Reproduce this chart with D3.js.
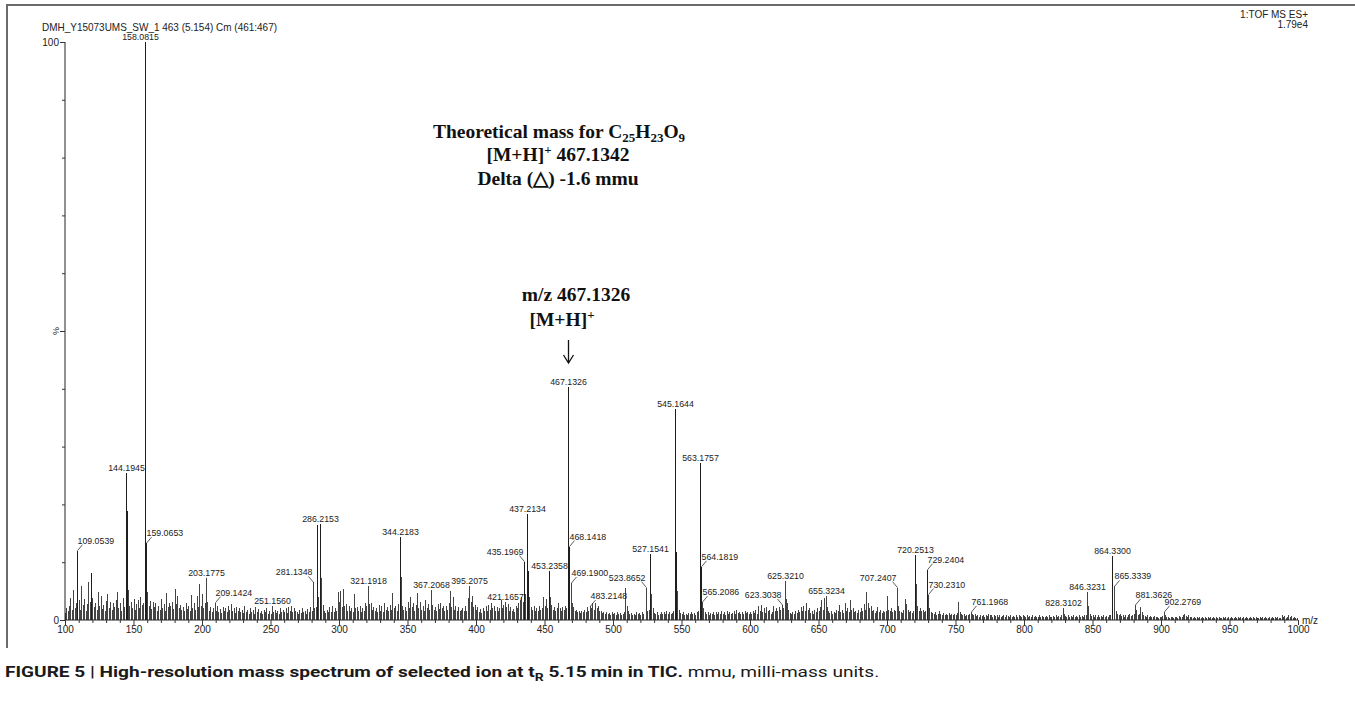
<!DOCTYPE html>
<html>
<head>
<meta charset="utf-8">
<script src="https://cdn.jsdelivr.net/npm/d3@7"></script>
<style>
  body { margin: 0; background: #fff; }
  svg { display: block; }
</style>
</head>
<body>
<script>
// ---- data ----
const runTitle = "DMH_Y15073UMS_SW_1 463 (5.154) Cm (461:467)";
const instrumentLines = ["1:TOF MS ES+", "1.79e4"];
const xTickValues = d3.range(100, 1001, 50);
const yTickValues = d3.range(0, 101, 10);

// labelled peaks: [m/z, relative intensity %]
const labeledPeaks = [
  [109.0539, 12.0], [144.1945, 25.5], [158.0815, 100], [159.0653, 13.3],
  [203.1775, 7.2], [209.1424, 3.0], [251.1560, 2.4], [281.1348, 6.5],
  [286.2153, 16.6], [321.1918, 5.8], [344.2183, 14.3], [367.2068, 5.2],
  [395.2075, 5.8], [421.1657, 3.1], [435.1969, 10.1], [437.2134, 18.3],
  [453.2358, 8.4], [467.1326, 40.3], [468.1418, 12.7], [469.1900, 6.4],
  [483.2148, 2.4], [523.8652, 5.6], [527.1541, 11.5], [545.1644, 36.5],
  [563.1757, 27.2], [564.1819, 9.2], [565.2086, 3.1], [623.3038, 2.6],
  [625.3210, 6.8], [655.3234, 4.2], [707.2407, 5.6], [720.2513, 11.3],
  [729.2404, 8.7], [730.2310, 4.4], [761.1968, 1.4], [828.3102, 2.1],
  [846.3231, 4.9], [864.3300, 11.0], [865.3339, 5.8], [881.3626, 2.6],
  [902.2769, 1.4]
];
// labels drawn beside the peak with a short leader
const labelsRight = [109.0539, 159.0653, 209.1424, 468.1418, 469.1900, 483.2148,
  564.1819, 565.2086, 729.2404, 730.2310, 761.1968, 865.3339, 881.3626, 902.2769];
const labelsLeft = [281.1348, 435.1969, 523.8652, 623.3038, 707.2407];

// unlabelled peaks, one per nominal mass (index 0 = block start), %
const noise100 = [
  1.2,2.0,1.5,2.5,3.8,1.8,5.2,2.0,3.0,0,
  3.5,1.8,5.8,2.6,3.6,1.6,2.8,6.5,3.2,8.2,
  3.8,2.2,3.0,1.8,4.9,2.4,4.2,1.9,2.6,1.5,
  3.3,4.5,2.0,3.1,1.7,2.9,2.2,3.4,4.8,2.0,
  3.0,1.6,3.8,2.3,0,18.8,5.2,2.4,3.2,2.0,
  3.6,1.8,2.8,3.5,2.1,3.9,2.6,3.0,0,0,
  4.8,2.5,3.3,1.9,3.1,2.2,3.0,1.6,2.4,1.8,
  3.6,2.0,2.8,1.5,4.7,2.2,3.0,2.5,3.2,1.9,
  5.4,2.8,4.2,2.0,2.6,1.7,2.3,1.5,3.0,1.9,
  2.4,1.6,4.3,2.1,3.0,1.7,4.1,2.3,6.2,2.5
];
const noise200 = [
  4.5,2.0,3.0,0,3.2,1.6,2.2,1.4,2.0,0,
  1.6,2.4,1.3,1.9,1.2,2.2,1.5,2.0,1.3,2.4,
  1.7,2.8,1.5,2.0,1.2,2.3,1.6,2.0,1.3,1.8,
  1.2,2.5,1.4,1.8,1.1,2.0,1.3,1.7,1.0,2.2,
  1.4,1.9,1.2,1.6,1.0,1.8,1.3,2.0,1.1,1.5,
  1.0,0,1.4,1.8,1.2,1.6,1.1,2.0,1.3,1.7,
  1.4,2.1,1.2,2.3,1.5,2.5,1.3,2.0,1.6,1.4,
  1.1,1.8,1.2,2.0,1.4,1.6,1.0,1.9,1.3,2.2,
  1.5,0,2.0,2.2,16.4,4.0,0,7.2,2.6,1.5,
  1.2,1.8,1.3,2.2,1.4,2.5,1.3,2.0,1.5,4.8
];
const noise300 = [
  3.2,5.0,2.2,5.4,2.5,2.8,1.6,2.4,1.5,2.0,
  1.4,4.5,2.0,2.2,1.5,2.4,1.3,2.0,1.6,3.0,
  2.4,0,2.8,3.0,1.8,2.2,1.5,2.0,1.3,2.6,
  1.6,2.4,1.4,3.0,1.8,2.2,1.5,2.6,1.7,4.6,
  2.0,2.4,1.5,2.8,0,7.5,2.5,1.8,2.2,1.5,
  3.2,2.0,4.0,2.2,3.0,1.6,2.6,4.7,2.0,3.2,
  1.8,2.4,1.6,3.4,2.0,2.8,1.7,0,2.6,1.8,
  2.3,1.5,2.8,1.9,3.0,2.0,2.5,1.6,2.4,1.8,
  3.0,5.0,2.2,4.0,1.8,2.5,1.6,2.2,1.5,1.8,
  2.0,1.6,2.4,1.5,3.8,0,3.2,4.2,2.2,2.6
];
const noise400 = [
  1.8,2.2,1.4,1.9,1.2,2.0,1.5,2.4,1.6,2.6,
  1.8,2.9,2.0,2.4,1.5,2.2,1.6,2.0,3.5,2.0,
  2.6,0,2.2,2.8,1.6,2.2,1.5,1.9,1.4,2.4,
  2.0,3.0,3.5,4.0,3.2,0,4.5,0,8.5,4.0,
  2.2,1.8,2.4,1.5,2.0,1.6,2.4,1.8,2.0,4.0,
  2.5,3.6,2.0,0,4.0,2.6,1.8,2.2,1.6,2.0,
  3.0,2.0,1.6,2.2,1.8,2.5,2.0,0,0,0,
  3.0,2.2,1.6,1.8,1.4,1.6,1.2,1.5,1.3,1.8,
  1.4,2.2,1.6,0,2.0,3.0,1.8,3.0,2.0,2.4,
  1.5,1.6,1.2,1.3,1.0,1.4,1.1,1.2,0.9,1.3
];
const noise500 = [
  1.0,1.2,0.9,1.3,1.0,1.2,0.8,1.1,1.4,5.5,
  2.4,1.5,1.0,1.2,0.9,1.1,0.8,1.3,1.0,1.2,
  0.9,1.4,1.1,0,2.2,1.5,1.8,0,4.5,2.0,
  1.2,1.0,1.3,0.9,1.1,1.4,1.0,1.3,1.0,1.5,
  1.1,1.3,1.0,1.2,1.5,0,11.7,5.0,1.8,1.2,
  1.0,1.3,0.9,1.1,0.8,1.2,1.0,1.4,1.1,1.2,
  0.9,1.3,1.5,0,0,0,2.0,1.4,1.0,1.3,
  0.9,1.2,1.0,1.4,0.9,1.3,1.0,1.4,1.1,1.5,
  1.0,1.3,0.9,1.5,1.1,1.4,1.0,1.2,1.5,1.1,
  1.8,1.2,1.4,1.0,1.3,1.0,1.6,1.2,1.4,1.0
];
const noise600 = [
  1.3,1.0,1.6,1.2,1.8,1.1,2.4,1.5,2.6,1.4,
  2.0,1.2,2.2,1.5,1.8,1.1,1.4,2.5,1.6,2.0,
  1.5,2.2,1.8,0,2.0,0,3.6,3.0,1.8,1.2,
  1.0,1.4,1.1,1.5,1.2,1.8,1.3,2.2,1.6,2.5,
  1.5,3.0,1.8,2.0,1.2,1.6,1.1,1.8,1.3,2.0,
  1.6,2.2,3.5,1.8,3.8,0,2.2,1.5,1.2,1.6,
  1.0,1.4,1.2,1.8,1.5,2.6,1.4,1.8,1.2,3.0,
  1.6,2.0,1.4,3.5,1.8,2.0,1.3,1.6,1.2,1.8,
  1.4,2.0,1.6,2.8,1.8,4.9,3.0,2.0,2.5,1.6,
  1.8,1.2,1.6,2.2,1.4,1.8,1.2,1.5,1.3,1.6
];
const noise700 = [
  4.2,1.8,1.5,2.0,1.4,1.8,1.5,0,2.5,1.6,
  1.4,1.2,1.8,3.6,2.8,1.8,1.4,1.6,1.2,1.5,
  0,6.3,2.5,1.6,2.0,1.5,1.8,1.4,1.6,0,
  0,2.0,1.4,1.2,1.0,1.3,0.9,1.1,1.5,1.0,
  0.8,1.2,0.9,1.0,0.8,1.2,0.9,1.0,0.8,1.1,
  0.9,1.2,3.1,1.4,1.0,0.8,1.0,0.7,0.9,0.8,
  1.0,0,1.1,0.8,1.0,0.7,0.9,0.6,0.8,0.7,
  0.9,0.6,0.8,0.7,1.0,0.8,0.9,0.6,0.8,0.7,
  0.9,0.6,0.8,0.5,0.7,0.8,0.6,0.9,0.7,0.6,
  0.8,0.5,0.7,0.6,0.8,0.6,0.9,0.7,0.6,0.8
];
const noise800 = [
  0.7,0.5,0.8,0.6,0.7,0.5,0.8,0.6,0.7,0.5,
  0.6,0.8,0.5,0.7,0.6,0.5,0.7,0.6,0.8,0.5,
  0.6,0.7,0.5,0.8,0.6,0.7,0.5,0.9,0,1.0,
  0.7,0.6,0.8,0.5,0.7,0.6,0.8,0.5,0.7,0.6,
  0.8,0.6,0.7,0.5,0.8,0.9,0,2.5,1.0,0.7,
  0.8,0.6,0.9,0.6,0.8,0.5,0.7,0.6,0.8,0.6,
  0.7,0.5,0.8,0.9,0,0,2.0,1.5,1.0,0.8,
  1.1,0.7,0.9,0.6,0.8,0.6,0.9,1.1,0.7,0.8,
  1.0,0,1.8,0.9,1.0,2.2,1.4,0.8,0.7,0.6,
  0.8,0.5,0.7,0.6,0.5,0.7,0.5,0.6,0.4,0.6
];
const noise900 = [
  0.5,0.7,0,0.8,0.5,0.6,0.4,0.5,0.6,0.4,
  0.5,0.6,0.4,0.7,0.5,0.6,0.8,1.1,0.7,0.5,
  0.8,0.5,0.6,0.4,0.5,0.3,0.5,0.4,0.6,0.4,
  0.5,0.3,0.5,0.4,0.6,0.3,0.5,0.4,0.5,0.3,
  0.6,0.4,0.5,0.3,0.4,0.5,0.3,0.5,0.4,0.6,
  0.4,0.5,0.3,0.4,0.5,0.3,0.5,0.4,0.6,0.3,
  0.5,0.4,0.5,0.3,0.4,0.6,0.3,0.5,0.4,0.5,
  0.3,0.4,0.6,0.3,0.5,0.4,0.5,0.3,0.4,0.6,
  0.3,0.5,0.4,0.6,0.4,0.5,0.3,0.4,0.8,0.5,
  0.7,0.4,0.6,0.8,0.5,0.7,0.4,0.5,0.3,0.4
];
const noiseBlocks = [[100, noise100], [200, noise200], [300, noise300], [400, noise400],
  [500, noise500], [600, noise600], [700, noise700], [800, noise800], [900, noise900]];

const W = 1355, H = 702;
const sans = "'Liberation Sans', Arial, sans-serif";
const serif = "'Liberation Serif', 'Times New Roman', serif";

const svg = d3.select("body").append("svg").attr("width", W).attr("height", H);

const x = d3.scaleLinear().domain([100, 1000]).range([65, 1298]);
const y = d3.scaleLinear().domain([0, 100]).range([620, 42]);

// frame (top and left rule)
svg.append("path")
  .attr("d", `M7,648 V5 H${W}`)
  .attr("fill", "none").attr("stroke", "#6b6b6b").attr("stroke-width", 2);

// header texts
svg.append("text").attr("x", 42).attr("y", 31)
  .attr("font-family", sans).attr("font-size", 10.5).attr("fill", "#222")
  .attr("textLength", 235).attr("lengthAdjust", "spacingAndGlyphs")
  .text(runTitle);
instrumentLines.forEach((t, i) => {
  svg.append("text").attr("x", 1308).attr("y", 18 + i * 9.5)
    .attr("text-anchor", "end").attr("font-family", sans).attr("font-size", 10).attr("fill", "#222")
    .text(t);
});

// spectrum sticks
const sticks = [];
noiseBlocks.forEach(([start, arr]) => arr.forEach((v, i) => { if (v > 0) sticks.push([start + i, v]); }));
labeledPeaks.forEach(p => sticks.push(p));

svg.append("g").selectAll("line").data(sticks).join("line")
  .attr("x1", d => Math.round(x(d[0])) + 0.5)
  .attr("x2", d => Math.round(x(d[0])) + 0.5)
  .attr("y1", y(0))
  .attr("y2", d => y(d[1]))
  .attr("stroke", d => d[1] > 8 ? "#1e1e1e" : "#444")
  .attr("stroke-width", 1)
  .attr("shape-rendering", "crispEdges");

// axes
const xAxis = svg.append("g").attr("transform", `translate(0,${y(0)})`)
  .call(d3.axisBottom(x).tickValues(d3.range(100, 1001, 10)).tickSize(3)
    .tickFormat(d => d % 50 === 0 ? d : ""));
xAxis.select(".domain").attr("d", `M${x(100)},0H${x(1000)}`).attr("stroke", "#222");
xAxis.selectAll(".tick line").attr("stroke", "#333").attr("y2", d => d % 50 === 0 ? 5 : 3);
xAxis.selectAll(".tick text").attr("font-family", sans).attr("font-size", 10)
  .attr("fill", "#222").attr("y", 6).attr("dy", "0.71em");
svg.append("text").attr("x", 1302).attr("y", 624)
  .attr("font-family", sans).attr("font-size", 10).attr("fill", "#222").text("m/z");

const yAxis = svg.append("g").attr("transform", `translate(${x(100)},0)`)
  .call(d3.axisLeft(y).tickValues(yTickValues).tickSize(3)
    .tickFormat(d => d === 0 || d === 100 ? d : ""));
yAxis.select(".domain").attr("d", `M0,${y(100)}V${y(0)}`).attr("stroke", "#222");
yAxis.selectAll(".tick line").attr("stroke", "#333").attr("x2", d => d % 50 === 0 ? -5 : -3);
yAxis.selectAll(".tick text").attr("font-family", sans).attr("font-size", 10).attr("fill", "#222").attr("x", -6);
svg.append("text")
  .attr("transform", `translate(${x(100) - 6},${y(50)}) rotate(-90)`)
  .attr("text-anchor", "middle").attr("font-family", sans).attr("font-size", 9).attr("fill", "#222")
  .text("%");

// peak labels
const lab = svg.append("g").attr("font-family", sans).attr("font-size", 8.8).attr("fill", "#222");
labeledPeaks.forEach(([mz, v]) => {
  const px = Math.round(x(mz)) + 0.5, top = y(v);
  const txt = mz.toFixed(4);
  if (labelsRight.includes(mz)) {
    lab.append("line").attr("x1", px).attr("y1", top).attr("x2", px + 5).attr("y2", top - 6)
      .attr("stroke", "#333").attr("stroke-width", 0.8);
    lab.append("text").attr("x", px).attr("y", top - 7).text(txt);
  } else if (labelsLeft.includes(mz)) {
    lab.append("line").attr("x1", px).attr("y1", top).attr("x2", px - 5).attr("y2", top - 6)
      .attr("stroke", "#333").attr("stroke-width", 0.8);
    lab.append("text").attr("x", px - 1).attr("y", top - 7).attr("text-anchor", "end").text(txt);
  } else {
    lab.append("text").attr("x", mz === 158.0815 ? px - 5 : px).attr("y", top - 2)
      .attr("text-anchor", "middle").text(txt);
  }
});

// annotation block
const ann = svg.append("g").attr("font-family", serif).attr("font-weight", "bold")
  .attr("font-size", 19.5).attr("fill", "#111").attr("text-anchor", "middle");
const l1 = ann.append("text").attr("x", 559).attr("y", 138);
l1.append("tspan").text("Theoretical mass for C");
l1.append("tspan").attr("dy", 4).attr("font-size", 13).text("25");
l1.append("tspan").attr("dy", -4).text("H");
l1.append("tspan").attr("dy", 4).attr("font-size", 13).text("23");
l1.append("tspan").attr("dy", -4).text("O");
l1.append("tspan").attr("dy", 4).attr("font-size", 13).text("9");
const l2 = ann.append("text").attr("x", 558).attr("y", 161);
l2.append("tspan").text("[M+H]");
l2.append("tspan").attr("dy", -7).attr("font-size", 13).text("+");
l2.append("tspan").attr("dy", 7).text(" 467.1342");
ann.append("text").attr("x", 558).attr("y", 185).text("Delta (\u25B3) -1.6 mmu");

const mainPeak = labeledPeaks.find(p => p[0] === 467.1326);
ann.append("text").attr("x", 576).attr("y", 301).text("m/z 467.1326");
const l5 = ann.append("text").attr("x", 562).attr("y", 326);
l5.append("tspan").text("[M+H]");
l5.append("tspan").attr("dy", -7).attr("font-size", 13).text("+");

const ax = Math.round(x(mainPeak[0])) + 0.5;
svg.append("path")
  .attr("d", `M${ax},340V362M${ax - 5},355L${ax},363L${ax + 5},355`)
  .attr("fill", "none").attr("stroke", "#111").attr("stroke-width", 1.3);

// caption
const cap = svg.append("g");
const ct = cap.append("text").attr("x", 0).attr("y", 0)
  .attr("font-family", "'Liberation Sans Narrow', 'Roboto', Arial, sans-serif")
  .attr("font-size", 15).attr("fill", "#1a1a1a");
ct.append("tspan").attr("font-weight", "bold").text("FIGURE 5 | High-resolution mass spectrum of selected ion at t");
ct.append("tspan").attr("font-weight", "bold").attr("dy", 4).attr("font-size", 11).text("R");
ct.append("tspan").attr("font-weight", "bold").attr("dy", -4).text(" 5.15\u2009min in TIC.");
ct.append("tspan").text(" mmu, milli-mass units.");
const cw = ct.node().getComputedTextLength();
cap.attr("transform", `translate(5,677) scale(${875 / cw},1)`);
</script>
</body>
</html>
